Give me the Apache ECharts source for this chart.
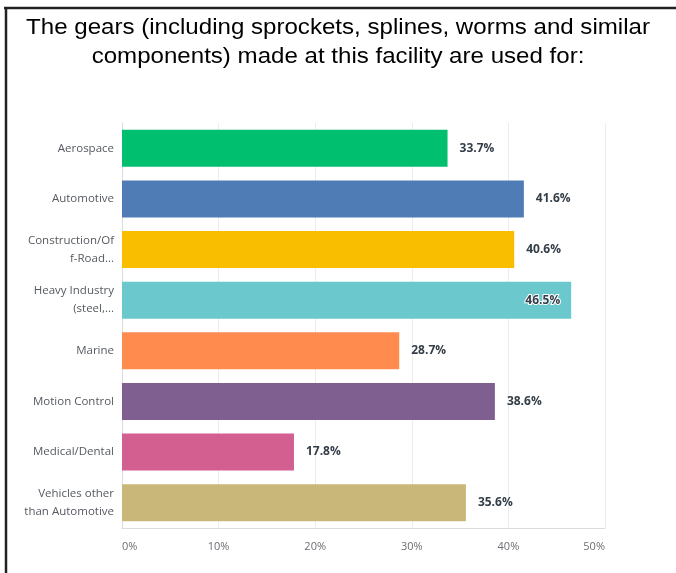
<!DOCTYPE html>
<html>
<head>
<meta charset="utf-8">
<script src="https://cdn.jsdelivr.net/npm/echarts@6/dist/echarts.min.js"></script>
<style>
  html, body { margin: 0; padding: 0; background: #fff; }
  #chart { width: 676px; height: 573px; }
</style>
</head>
<body>
<div id="chart"></div>
<script>
// Survey answers: share of facilities using their gears in each market
const titleLines = [
  'The gears (including sprockets, splines, worms and similar',
  'components) made at this facility are used for:'
];
const categories = [
  'Aerospace',
  'Automotive',
  'Construction/Of\nf-Road...',
  'Heavy Industry\n(steel,...',
  'Marine',
  'Motion Control',
  'Medical/Dental',
  'Vehicles other\nthan Automotive'
];
const percentages = [33.7, 41.6, 40.6, 46.5, 28.7, 38.6, 17.8, 35.6];
const barColors = ['#00bf6f', '#507cb6', '#f9be00', '#6bc8cd', '#ff8b4f', '#7f5f90', '#d25f90', '#c9b77a'];
const axisTicks = [0, 10, 20, 30, 40, 50];

const chart = echarts.init(document.getElementById('chart'), null, { renderer: 'canvas' });

// The longest bar carries its label inside, with a white halo
const insideLabelIndex = percentages.indexOf(Math.max(...percentages));

const barData = percentages.map((v, i) => {
  const item = { value: v, itemStyle: { color: barColors[i] } };
  if (i === insideLabelIndex) {
    item.label = {
      position: 'insideRight',
      distance: 11,
      textBorderColor: '#ffffff',
      textBorderWidth: 2
    };
  }
  return item;
});

// Heading: two centred lines in a slightly widened sans face
const titleGraphics = titleLines.map((line, i) => ({
  type: 'text',
  x: 338,
  y: 27.5 + i * 29.5,
  scaleX: 1.095,
  style: {
    text: line,
    fontFamily: 'Liberation Sans',
    fontSize: 22,
    fill: '#000',
    align: 'center',
    verticalAlign: 'middle'
  }
}));

chart.setOption({
  animation: false,
  graphic: [
    { type: 'line', shape: { x1: 4, y1: 8, x2: 676, y2: 8 }, style: { stroke: '#222', lineWidth: 2.5 } },
    { type: 'line', shape: { x1: 6, y1: 7, x2: 6, y2: 573 }, style: { stroke: '#222', lineWidth: 2.5 } },
    ...titleGraphics
  ],
  grid: { left: 122, right: 71, top: 123, bottom: 45 },
  xAxis: {
    type: 'value',
    min: axisTicks[0],
    max: axisTicks[axisTicks.length - 1],
    interval: axisTicks[1] - axisTicks[0],
    axisLine: { show: true, lineStyle: { color: '#dcdcdc', width: 1 } },
    axisTick: { show: false },
    splitLine: { show: true, lineStyle: { color: '#ececec', width: 1 } },
    axisLabel: {
      formatter: '{value}%',
      fontFamily: 'Open Sans',
      fontSize: 11,
      color: '#6b6e72',
      margin: 13,
      alignMinLabel: 'left',
      alignMaxLabel: 'right'
    }
  },
  yAxis: {
    type: 'category',
    data: categories,
    inverse: true,
    axisLine: { show: true, lineStyle: { color: '#dcdcdc', width: 1 } },
    axisTick: { show: false },
    splitLine: { show: false },
    axisLabel: {
      fontFamily: 'Open Sans',
      fontSize: 11.5,
      color: '#555a60',
      margin: 8,
      lineHeight: 18,
      align: 'right'
    }
  },
  series: [{
    type: 'bar',
    data: barData,
    barCategoryGap: '27%',
    label: {
      show: true,
      position: 'right',
      distance: 12,
      formatter: p => p.value.toFixed(1) + '%',
      fontFamily: 'Open Sans',
      fontSize: 12,
      fontWeight: 'bold',
      color: '#333e48'
    }
  }]
});
</script>
</body>
</html>
